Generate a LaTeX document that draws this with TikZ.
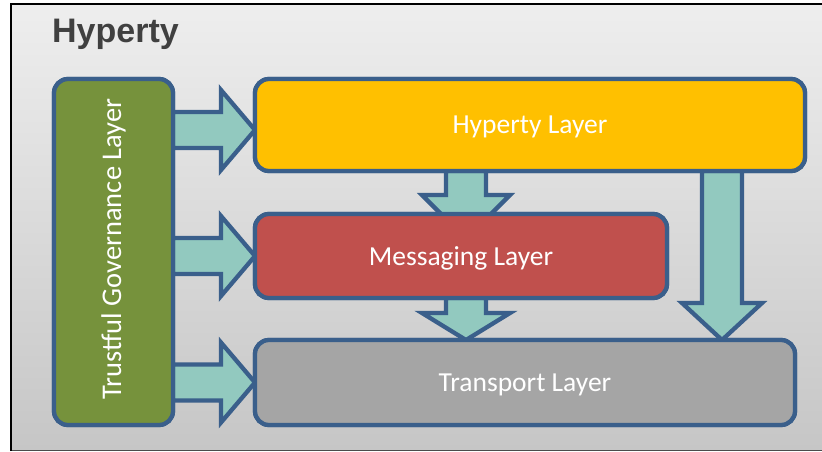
\documentclass[tikz,border=0pt]{standalone}
\usepackage{fontspec}
\usepackage{tikz}
\usetikzlibrary{calc}
\newfontfamily\titlefont{Liberation Sans}
\newfontfamily\labelfont{Carlito}
\definecolor{bordblue}{HTML}{3A5F8B}
\definecolor{arrowteal}{HTML}{92C9BF}
\definecolor{govgreen}{HTML}{76923C}
\definecolor{hypyellow}{HTML}{FFC000}
\definecolor{msgred}{HTML}{C0504D}
\definecolor{tragray}{HTML}{A5A5A5}
\definecolor{bgtop}{HTML}{EEEEEE}
\definecolor{bgbot}{HTML}{C6C6C6}
\definecolor{titlegray}{HTML}{404040}

% block arrow: #1 from, #2 to, #3 shaft half, #4 head half, #5 head length
\newcommand{\blockarrow}[5]{%
  \coordinate (ba-base) at ($(#2)!#5pt!(#1)$);
  \filldraw[arrowfill]
    ($(#1)!#3pt!90:(#2)$) -- ($(ba-base)!#3pt!-90:(#1)$) -- ($(ba-base)!#4pt!-90:(#1)$) -- (#2)
    -- ($(ba-base)!#4pt!90:(#1)$) -- ($(ba-base)!#3pt!90:(#1)$) -- ($(#1)!#3pt!-90:(#2)$) -- cycle;}

\begin{document}
\begin{tikzpicture}[x=1pt,y=-1pt,
  layer/.style={draw=bordblue, line width=4.3pt, rounded corners=14pt, outer sep=0pt,
    text=white, text depth=0pt, font=\labelfont\fontsize{27.5}{33}\selectfont},
  arrowfill/.style={draw=bordblue, fill=arrowteal, line width=4.3pt}]
  \useasboundingbox (0,0) rectangle (822,451);
  % Frame and background
  \shade[top color=bgtop, bottom color=bgbot] (11,4) rectangle (822,450);
  \draw[black!70, line width=1pt] (11,450) -- (822,450);
  \draw[black, line width=1.6pt] (11,451) -- (11,4) -- (822,4);
  \node[anchor=base west, inner sep=0pt, text=titlegray, font=\titlefont\bfseries\fontsize{34}{40}\selectfont] (title) at (52,42) {Hyperty};

  % Layer positions
  \coordinate (govc) at (113.5,252);
  \coordinate (hypc) at (530,125);
  \coordinate (msgc) at (461,256);
  \coordinate (trac) at (525,382.5);
  \path (govc) node[layer, minimum width=119pt, minimum height=346pt] (gov) {};
  \path (hypc) node[layer, minimum width=550pt, minimum height=92pt] (hyp) {};
  \path (msgc) node[layer, minimum width=412pt, minimum height=84pt] (msg) {};
  \path (trac) node[layer, minimum width=540pt, minimum height=85pt] (tra) {};

  % Arrows (drawn under the boxes)
  \coordinate (a1s) at ($(gov.east |- hyp.west)+(0,5)$);
  \coordinate (a1e) at ($(hyp.west)+(0,5)$);
  \coordinate (a2s) at (gov.east |- msg.west);
  \coordinate (a3s) at (gov.east |- tra.west);
  \coordinate (d1s) at ($(hyp.south -| msg.north)+(5,0)$);
  \coordinate (d1e) at ($(msg.north)+(5,25)$);
  \coordinate (d2s) at ($(msg.south)+(5,0)$);
  \coordinate (d2e) at ($(tra.north -| msg.south)+(5,0)$);
  \coordinate (d3s) at (hyp.south -| 722,0);
  \coordinate (d3e) at (tra.north -| 722,0);
  \blockarrow{a1s}{a1e}{18}{40}{34}
  \blockarrow{a2s}{msg.west}{18}{40}{34}
  \blockarrow{a3s}{tra.west}{18}{40}{34}
  \blockarrow{d1s}{d1e}{20}{44}{44}
  \blockarrow{d2s}{d2e}{20}{44}{27}
  \blockarrow{d3s}{d3e}{20}{40}{37}

  % Boxes on top
  \node[layer, fill=govgreen, minimum width=119pt, minimum height=346pt] at (govc) {};
  \node[layer, fill=hypyellow, minimum width=550pt, minimum height=92pt] at (hypc) {Hyperty Layer};
  \node[layer, fill=msgred, minimum width=412pt, minimum height=84pt] at (msgc) {Messaging Layer};
  \node[layer, fill=tragray, minimum width=540pt, minimum height=85pt] at (trac) {Transport Layer};
  \node[text=white, font=\labelfont\fontsize{28.5}{34}\selectfont, rotate=90] (govtext) at ($(govc)+(0,-3)$) {Trustful Governance Layer};
\end{tikzpicture}
\end{document}
